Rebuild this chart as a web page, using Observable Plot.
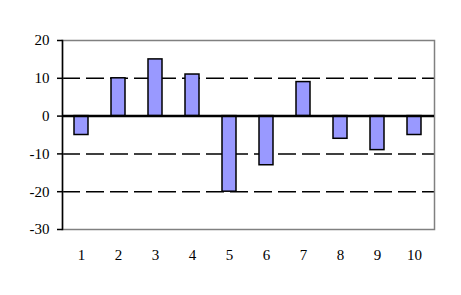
<!DOCTYPE html>
<html>
<head>
<meta charset="utf-8">
<script src="https://cdn.jsdelivr.net/npm/d3@7"></script>
<script src="https://cdn.jsdelivr.net/npm/@observablehq/plot@0.6"></script>
<style>
  html, body { margin: 0; padding: 0; background: #fff; }
</style>
</head>
<body>
<div id="chart"></div>
<script>
const categories = ["1", "2", "3", "4", "5", "6", "7", "8", "9", "10"];
const values = [-5, 10, 15, 11, -20, -13, 9, -6, -9, -5];
const yTicks = [-30, -20, -10, 0, 10, 20];
const gridValues = [10, -10, -20];

const data = categories.map((c, i) => ({ cat: c, value: values[i] }));

const chart = Plot.plot({
  width: 461,
  height: 295,
  marginLeft: 62,
  marginRight: 27,
  marginTop: 40,
  marginBottom: 66,
  style: { fontFamily: "'Liberation Serif', 'Times New Roman', serif", fontSize: "15px", background: "#fff", color: "#000" },
  x: { domain: categories, paddingInner: 0.62, paddingOuter: 0.31, label: null },
  y: { domain: [-30, 20], label: null },
  marks: [
    Plot.ruleY(gridValues, { stroke: "#000", strokeWidth: 1.5, strokeDasharray: "18,6" }),
    Plot.barY(data, { x: "cat", y: "value", fill: "#9999FF", stroke: "#000", strokeWidth: 1.5 }),
    Plot.frame({ stroke: "#808080", strokeWidth: 1.5 }),
    Plot.ruleY([0], { stroke: "#000", strokeWidth: 2.5 }),
    Plot.frame({ anchor: "left", stroke: "#000", strokeWidth: 1.5 }),
    Plot.axisY({ ticks: yTicks, tickSize: 5, tickPadding: 8, tickFormat: d => String(d), stroke: "#000", strokeWidth: 1.5, fill: "#000", fontSize: 15, label: null }),
    Plot.axisX({ tickSize: 0, tickPadding: 20, fill: "#000", fontSize: 15, label: null })
  ]
});
document.getElementById("chart").appendChild(chart);
</script>
</body>
</html>
